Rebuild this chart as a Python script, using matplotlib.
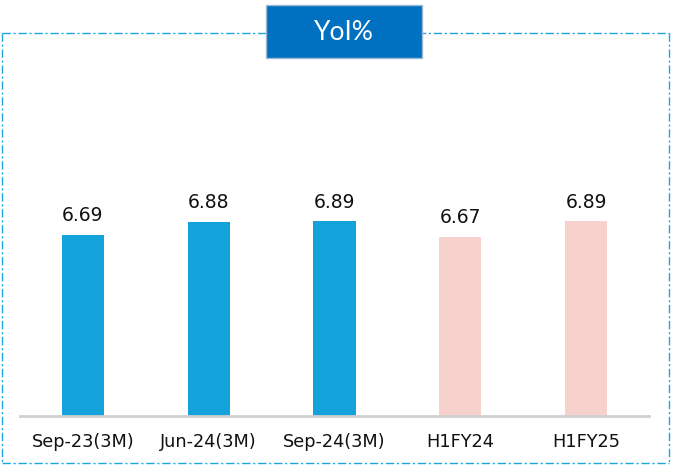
import matplotlib.pyplot as plt
from matplotlib.patches import Rectangle
from matplotlib.lines import Line2D

categories = ["Sep-23(3M)", "Jun-24(3M)", "Sep-24(3M)", "H1FY24", "H1FY25"]
values = [6.69, 6.88, 6.89, 6.67, 6.89]
colors = ["#14A2DA", "#14A2DA", "#14A2DA", "#F7D1CB", "#F7D1CB"]
title = "YoI%"

plt.rcParams['font.family'] = ['DejaVu Sans']

W, H = 674, 466
fig = plt.figure(figsize=(W / 100, H / 100), dpi=100)

# dash-dot frame around the chart
frame_c = "#1EA6DE"
fx0, fx1, fy0, fy1 = 1.5 / W, 669 / W, 1 - 32.5 / H, 1 - 462.5 / H
for xs, ys in [([fx0, fx1], [fy0, fy0]), ([fx0, fx1], [fy1, fy1]),
               ([fx0, fx0], [fy0, fy1]), ([fx1, fx1], [fy0, fy1])]:
    fig.add_artist(Line2D(xs, ys, color=frame_c, lw=1.0, linestyle=(0, (6, 2, 1.5, 2))))

# axes placement in pixels
ax_l, ax_r, ax_top, ax_bot = 20, 649, 60, 416
ax = fig.add_axes([ax_l / W, 1 - ax_bot / H, (ax_r - ax_l) / W, (ax_bot - ax_top) / H])

x = range(len(categories))
ax.bar(x, values, width=0.334, color=colors, zorder=2)
for xi, v in zip(x, values):
    ax.annotate(f"{v:.2f}", (xi, v), xytext=(0, 10), textcoords="offset points",
                ha="center", va="baseline", fontsize=13.5, color="#111111")

ymin = 4.05
ax.set_ylim(ymin, ymin + (ax_bot - ax_top) / 68.5)
ax.set_xlim(-0.5, len(categories) - 0.5)
ax.set_xticks(list(x))
ax.set_xticklabels(categories, fontsize=12.8, color="#111111")
ax.tick_params(axis="x", length=0, pad=12)
ax.set_yticks([])
for s in ["top", "right", "left"]:
    ax.spines[s].set_visible(False)
ax.spines["bottom"].set_color("#D0D0D0")
ax.spines["bottom"].set_linewidth(2)
ax.spines["bottom"].set_zorder(3)
ax.patch.set_alpha(0)

# title box
bx0, bx1, by0, by1 = 266, 422, 5, 58
fig.add_artist(Rectangle((bx0 / W, 1 - by1 / H), (bx1 - bx0) / W, (by1 - by0) / H,
                         facecolor="#0070C0", edgecolor="#9DB8D6", lw=1.0,
                         transform=fig.transFigure, zorder=5))
fig.text((bx0 + bx1) / 2 / W, 1 - 32 / H, title, color="white", fontsize=19,
         family=["Lato", "DejaVu Sans"], ha="center", va="center", zorder=6)

fig.savefig("out.png", dpi=100)
